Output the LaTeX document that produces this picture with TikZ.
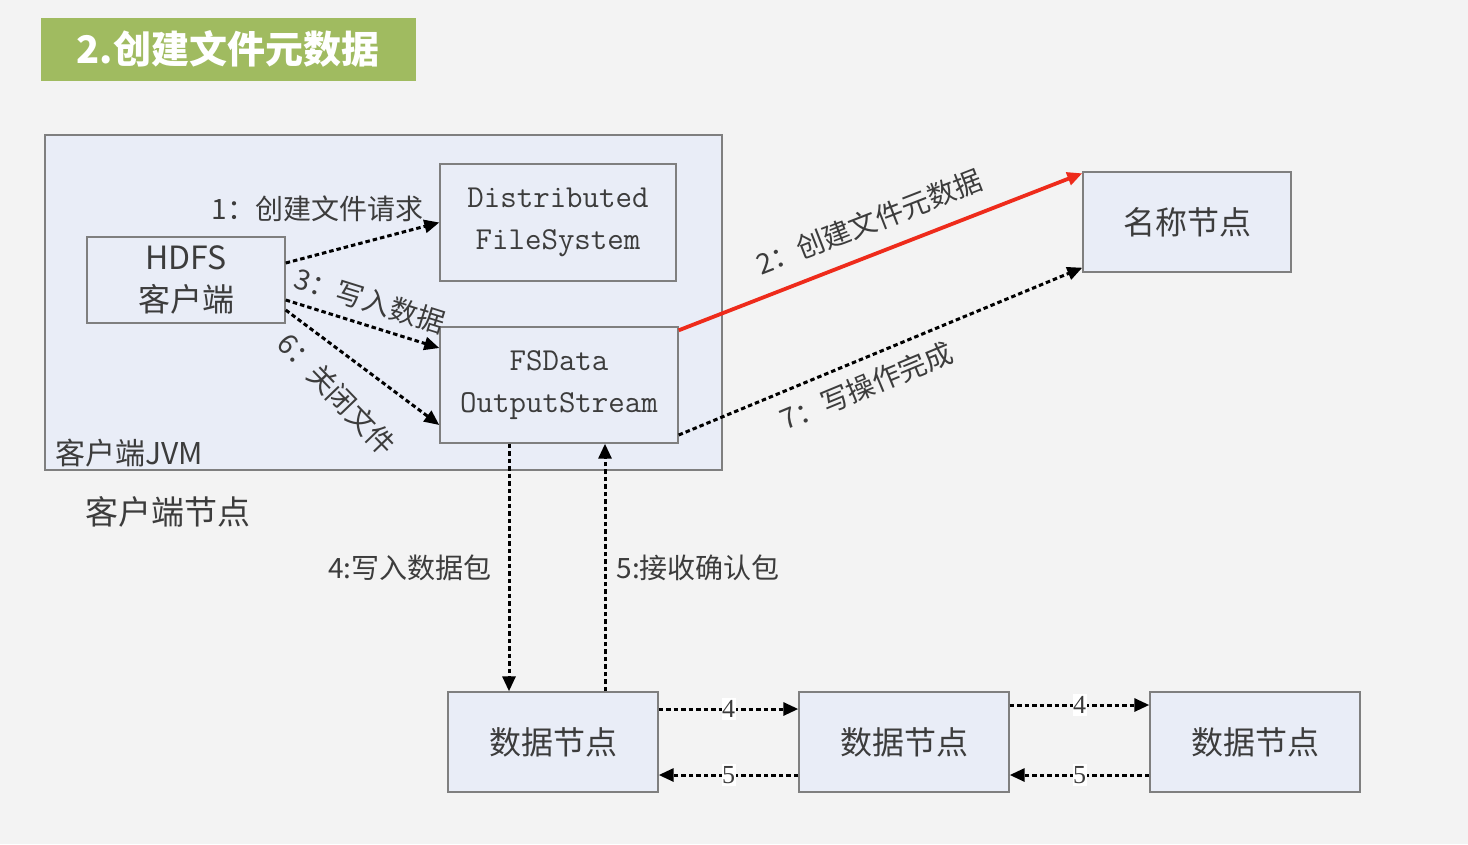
\documentclass[tikz,border=0pt]{standalone}
\usepackage{fontspec}
\setmainfont{Noto Sans CJK SC}
\newfontfamily\digitfont{Liberation Serif}
\usepackage{xcolor}
\usetikzlibrary{arrows.meta, positioning, calc}
\definecolor{mybg}{HTML}{F3F3F3}
\definecolor{mytitle}{HTML}{A0BB60}
\definecolor{myboxfill}{HTML}{E9EDF7}
\definecolor{myborder}{HTML}{7F7F7F}
\definecolor{mytext}{HTML}{3C3C3C}
\definecolor{myred}{HTML}{EE2B1B}
\tikzset{
box/.style={
draw=myborder,
fill=myboxfill,
line width=1.4pt,
minimum width=208pt,
minimum height=100pt,
font=\fontsize{32}{42}\selectfont,
text=mytext,
align=center,
inner sep=0pt
},
streambox/.style={
box,
font=\ttfamily\fontsize{32}{42}\selectfont
},
lbl/.style={
font=\fontsize{28}{32}\selectfont,
text=mytext,
inner sep=2pt
},
tick/.style={
font=\digitfont\fontsize{26}{28}\selectfont,
text=mytext,
fill=white,
inner xsep=0.5pt,
inner ysep=2pt
},
flow/.style={
-{Triangle[length=15pt,width=13pt]},
line width=3pt,
dash pattern=on 4.5pt off 3pt,
draw=black
},
redflow/.style={
-{Triangle[length=15pt,width=13pt]},
line width=3.8pt,
draw=myred
}
}

\begin{document}
\begin{tikzpicture}[x=1pt,y=-1pt]
\fill[mybg] (0,0) rectangle (1468,844);
\useasboundingbox (0,0) rectangle (1468,844);

\node[fill=mytitle, minimum width=375pt, minimum height=63pt, text=white,
  font=\bfseries\fontsize{38}{40}\selectfont] (title) at (228,49) {2.创建文件元数据};

% client side
\node[box, minimum width=677pt, minimum height=335pt] (jvm) at (383.5,302.5) {};
\node[lbl, font=\fontsize{30}{32}\selectfont, anchor=south west] (jvmlbl)
  at ([xshift=9pt,yshift=1pt]jvm.south west) {客户端JVM};
\node[lbl, font=\fontsize{33}{35}\selectfont, anchor=west] (host) at (83,512) {客户端节点};

\node[box, minimum width=198pt, minimum height=86pt] (hdfs) at (186,280) {HDFS\\客户端};
\node[streambox, minimum width=236pt, minimum height=117pt] (dfs) at (558,222.5) {Distributed\\FileSystem};
\node[streambox, minimum width=238pt, minimum height=116pt] (fsdos) at (559,385) {FSData\\OutputStream};

% name node and data nodes
\node[box] (nn) at (1187,222) {名称节点};
\node[box, minimum width=210pt] (dnA) at (553,742) {数据节点};
\node[box, minimum width=210pt] (dnB) at (904,742) {数据节点};
\node[box, minimum width=210pt] (dnC) at (1255,742) {数据节点};

% client calls
\draw[flow] ([yshift=17]hdfs.east) -- (dfs.west)
  node[lbl, pos=0.92, anchor=south east] {1：创建文件请求};
\draw[flow] ([yshift=-20]hdfs.east) -- ([yshift=37]fsdos.west)
  node[lbl, pos=0.5, sloped, above=8pt] {3：写入数据};
\draw[flow] ([yshift=-30]hdfs.east) -- ([yshift=-40]fsdos.west);
\node[lbl, rotate=-46] (closelbl) at (337,394) {6：关闭文件};

% to name node
\draw[redflow] ([yshift=-4]fsdos.north east) -- ([yshift=-2]nn.north west)
  node[lbl, pos=0.5, sloped, above=15pt] {2：创建文件元数据};
\draw[flow] ([yshift=-50]fsdos.east) -- ([yshift=5]nn.south west)
  node[lbl, pos=0.44, sloped, below=10pt] {7：写操作完成};

% packets
\coordinate (wr) at ([xshift=-50pt]fsdos.south);
\coordinate (ack) at ([xshift=46pt]fsdos.south);
\draw[flow] (wr) -- (wr |- dnA.north)
  node[lbl, midway, left=14pt] {4:写入数据包};
\draw[flow] (ack |- dnA.north) -- (ack)
  node[lbl, midway, right=8pt] {5:接收确认包};

% pipeline
\draw[flow] ([yshift=33]dnA.east) -- ([yshift=33]dnB.west) node[tick, midway] {4};
\draw[flow] ([yshift=-33]dnB.west) -- ([yshift=-33]dnA.east) node[tick, midway] {5};
\draw[flow] ([yshift=37]dnB.east) -- ([yshift=37]dnC.west) node[tick, midway] {4};
\draw[flow] ([yshift=-33]dnC.west) -- ([yshift=-33]dnB.east) node[tick, midway] {5};

\end{tikzpicture}
\end{document}
